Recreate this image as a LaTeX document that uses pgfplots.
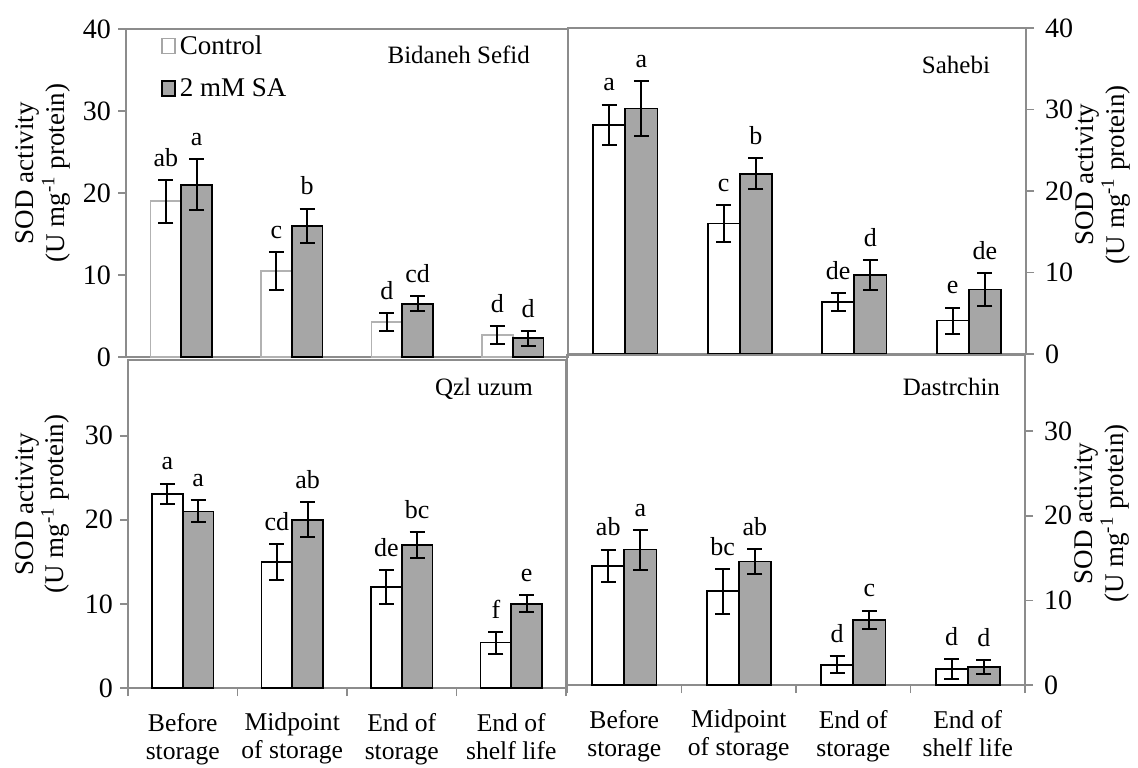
\documentclass[border=0pt]{standalone}
\usepackage{pgfplots}
\pgfplotsset{compat=1.18}
\usepackage{pgfplotstable}
\usepackage{fontspec}
\setmainfont{Liberation Serif}
\definecolor{sagray}{RGB}{166,166,166}
\definecolor{axgray}{RGB}{140,140,140}

% x: category, c/ce: control mean/err, s/se: 2 mM SA mean/err, lc/ls: letters
\pgfplotstableread{
x c ce s se lc ls
0 19.0 2.6 21.0 3.1 ab a
1 10.5 2.3 16.0 2.1 c b
2 4.3 1.1 6.5 0.9 d cd
3 2.7 1.1 2.3 0.9 d d
}\tblTL
\pgfplotstableread{
x c ce s se lc ls
0 28.1 2.5 30.1 3.4 a a
1 16.0 2.3 22.1 1.9 c b
2 6.4 1.1 9.7 1.8 de d
3 4.1 1.6 7.9 2.0 e de
}\tblTR
\pgfplotstableread{
x c ce s se lc ls
0 23.1 1.2 21.0 1.3 a a
1 15.0 2.1 20.0 2.1 cd ab
2 12.0 2.0 17.0 1.5 de bc
3 5.4 1.3 10.0 1.0 f e
}\tblBL
\pgfplotstableread{
x c ce s se lc ls
0 14.1 1.9 16.0 2.35 ab a
1 11.1 2.65 14.6 1.5 bc ab
2 2.4 1.0 7.7 1.1 d c
3 1.9 1.2 2.1 0.8 d d
}\tblBR

\pgfplotsset{
  panel/.style={
    scale only axis, clip=false,
    xmin=-0.5, xmax=3.5, ymin=0,
    axis line style={axgray, line width=0.8pt},
    tick align=outside, major tick length=4pt, minor tick length=4pt,
    tick style={axgray, line width=0.8pt},
    tick label style={font=\fontsize{14}{14}\selectfont},
    /pgf/number format/assume math mode=true,
    ylabel={SOD activity\\(U mg\textsuperscript{-1} protein)},
    bar width=0.28,
    nodes near coords style={font=\fontsize{13}{13}\selectfont, anchor=south, inner sep=1pt, yshift=5.5pt, text=black},
  },
  toppanel/.style={panel, xtick=\empty, ymax=40, ytick={0,10,20,30,40}},
  botpanel/.style={panel, ymax=39, ytick={0,10,20,30},
    xtick={0,1,2,3}, minor xtick={-0.5,0.5,1.5,2.5,3.5},
    major x tick style={draw=none}, xtick pos=bottom,
    xticklabels={{Before\\storage},{Midpoint\\of storage},{End of\\storage},{End of\\shelf life}},
    xticklabel style={align=center, font=\fontsize{12.8}{14}\selectfont, yshift=-5pt},
  },
  leftpanel/.style={ytick pos=left},
  rightpanel/.style={ytick pos=right, yticklabel pos=right, yticklabel style={xshift=2pt}},
  ylab/.style={ylabel style={at={#1}, anchor=center, rotate=0, align=center, font=\fontsize{13.5}{14}\selectfont}},
  errb/.style={
    error bars/y dir=both, error bars/y explicit,
    error bars/error bar style={black, line width=1pt},
    error bars/error mark options={black, rotate=90, mark size=3.75pt, line width=1pt}},
  ctrl/.style={ybar, bar shift=0, draw=black, fill=white, line width=0.8pt, errb},
  sa/.style={ybar, bar shift=0, draw=black, fill=sagray, line width=0.8pt, errb},
  lett/.style={draw=none, mark=none, nodes near coords, point meta=explicit symbolic},
}

\newcommand\panelplots[2][black]{%
  \addplot[ctrl, draw=#1, forget plot] table[x expr=\thisrow{x}-0.14, y=c, y error=ce] {#2};
  \addplot[sa, forget plot] table[x expr=\thisrow{x}+0.14, y=s, y error=se] {#2};
  \addplot[lett, forget plot] table[x expr=\thisrow{x}-0.14, y expr=\thisrow{c}+\thisrow{ce}, meta=lc] {#2};
  \addplot[lett, forget plot] table[x expr=\thisrow{x}+0.14, y expr=\thisrow{s}+\thisrow{se}, meta=ls] {#2};
}

\begin{document}
\begin{tikzpicture}
\useasboundingbox (0,0) rectangle (569pt,383.5pt);

% Top-left: Bidaneh Sefid
\begin{axis}[toppanel, leftpanel, width=221pt, height=164pt,
  at={(63pt,205pt)}, anchor=south west,
  ylab={(rel axis cs:-0.187,0.56)},
  legend cell align=left,
  legend style={at={(rel axis cs:0,1)}, anchor=north west, xshift=17.5pt, yshift=-1pt,
    draw=none, fill=none, font=\fontsize{13.5}{13.5}\selectfont, row sep=6.5pt, inner sep=0pt},
  ]
  \addlegendimage{legend image code/.code={\draw[gray!70, fill=white, line width=0.7pt] (0pt,-3.75pt) rectangle (6.5pt,3.75pt);}}
  \addlegendentry{Control}
  \addlegendimage{legend image code/.code={\draw[black, fill=sagray, line width=0.7pt] (0pt,-3.75pt) rectangle (6.5pt,3.75pt);}}
  \addlegendentry{2 mM SA}
  \panelplots[gray!60]{\tblTL}
  \node[anchor=east, font=\fontsize{12.5}{12.5}\selectfont] at (rel axis cs:1,1) [xshift=-15.5pt, yshift=-13pt] {Bidaneh Sefid};
\end{axis}

% Top-right: Sahebi
\begin{axis}[toppanel, rightpanel, width=229pt, height=163pt,
  at={(284pt,206.5pt)}, anchor=south west,
  ylab={(rel axis cs:1.168,0.55)},
  ]
  \panelplots{\tblTR}
  \node[anchor=east, font=\fontsize{12.5}{12.5}\selectfont] at (rel axis cs:1,1) [xshift=-14.5pt, yshift=-18.5pt] {Sahebi};
\end{axis}

% Bottom-left: Qzl uzum
\begin{axis}[botpanel, leftpanel, width=219pt, height=164pt,
  at={(64pt,39.5pt)}, anchor=south west,
  ylab={(rel axis cs:-0.195,0.56)},
  ]
  \panelplots{\tblBL}
  \node[anchor=east, font=\fontsize{12.5}{12.5}\selectfont] at (rel axis cs:1,1) [xshift=-13pt, yshift=-14.5pt] {Qzl uzum};
\end{axis}

% Bottom-right: Dastrchin
\begin{axis}[botpanel, rightpanel, width=229pt, height=165pt,
  at={(283.5pt,41pt)}, anchor=south west,
  ylab={(rel axis cs:1.168,0.52)},
  ]
  \panelplots{\tblBR}
  \node[anchor=east, font=\fontsize{12.5}{12.5}\selectfont] at (rel axis cs:1,1) [xshift=-9pt, yshift=-16pt] {Dastrchin};
\end{axis}
\end{tikzpicture}
\end{document}
